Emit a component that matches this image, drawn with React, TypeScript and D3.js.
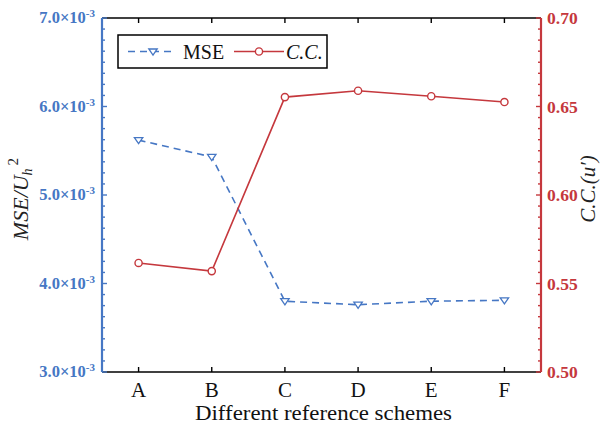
import React from "react";
import * as d3 from "d3";

const schemes = ["A", "B", "C", "D", "E", "F"];
const mseValues = [5.62e-3, 5.43e-3, 3.8e-3, 3.76e-3, 3.8e-3, 3.81e-3];
const ccValues = [0.5616, 0.557, 0.6553, 0.6589, 0.6558, 0.6525];
const mseTicks = [3e-3, 4e-3, 5e-3, 6e-3, 7e-3];
const ccTicks = [0.5, 0.55, 0.6, 0.65, 0.7];

const W = 602;
const H = 425;
const M = { left: 102, right: 541, top: 18, bottom: 372 };
const BLUE = "#4677C4";
const RED = "#C5383D";
const FONT = "'Times New Roman', 'Liberation Serif', Times, serif";
const serif = { fontFamily: FONT };

export default function App() {
  const x = d3.scaleLinear().domain([0.5, 6.5]).range([M.left, M.right]);
  const yL = d3.scaleLinear().domain([3e-3, 7e-3]).range([M.bottom, M.top]);
  const yR = d3.scaleLinear().domain([0.5, 0.7]).range([M.bottom, M.top]);

  const minorL = d3.range(0, 33).map((i) => 3e-3 + i * 0.125e-3);
  const minorR = d3.range(0, 33).map((i) => 0.5 + i * 0.00625);

  const mseLine = d3
    .line<number>()
    .x((_, i) => x(i + 1))
    .y((d) => yL(d));
  const ccLine = d3
    .line<number>()
    .x((_, i) => x(i + 1))
    .y((d) => yR(d));

  const tri = (cx: number, cy: number, s = 4.2) =>
    `M${cx - s},${cy - s * 0.6}L${cx + s},${cy - s * 0.6}L${cx},${cy + s * 0.85}Z`;

  const expLabel = (v: number) => (v * 1e3).toFixed(1);

  return (
    <svg width={W} height={H} style={{ position: "absolute", left: 0, top: 0, background: "#fff", ...serif }}>
      {/* frame: top and bottom black */}
      <line x1={M.left} x2={M.right} y1={M.top} y2={M.top} stroke="#000" strokeWidth={1.6} />
      <line x1={M.left} x2={M.right} y1={M.bottom} y2={M.bottom} stroke="#000" strokeWidth={1.6} />
      {schemes.map((s, i) => (
        <g key={s}>
          <line x1={x(i + 1)} x2={x(i + 1)} y1={M.bottom} y2={M.bottom - 5} stroke="#000" strokeWidth={1.4} />
          <line x1={x(i + 1)} x2={x(i + 1)} y1={M.top} y2={M.top + 5} stroke="#000" strokeWidth={1.4} />
          <text x={x(i + 1)} y={397} textAnchor="middle" fontSize={21} fill="#111" style={serif}>
            {s}
          </text>
        </g>
      ))}
      <text
        x={195}
        y={420}
        fontSize={21.5}
        fill="#111"
        style={serif}
        textLength={257}
        lengthAdjust="spacingAndGlyphs"
      >
        Different reference schemes
      </text>

      {/* left axis */}
      <line x1={M.left} x2={M.left} y1={M.top} y2={M.bottom} stroke={BLUE} strokeWidth={2.2} />
      {minorL.map((v, i) => (
        <line key={i} x1={M.left} x2={M.left + (i % 8 === 0 ? 5 : 3)} y1={yL(v)} y2={yL(v)} stroke={BLUE} strokeWidth={1.4} />
      ))}
      {mseTicks.map((v) => (
        <text key={v} x={M.left - 7} y={yL(v) + 5} textAnchor="end" fontSize={16.5} fontWeight="bold" fill={BLUE} style={serif}>
          {expLabel(v)}×10
          <tspan dy={-6} fontSize={11}>-3</tspan>
        </text>
      ))}
      <text transform={`translate(28,199) rotate(-90)`} textAnchor="middle" fontSize={22} fontStyle="italic" fill="#222" style={serif}>
        MSE/U
        <tspan fontSize={14} dy={4}>h</tspan>
        <tspan fontSize={15} fontStyle="normal" dy={-14} dx={3}>2</tspan>
      </text>

      {/* right axis */}
      <line x1={M.right} x2={M.right} y1={M.top} y2={M.bottom} stroke={RED} strokeWidth={2.2} />
      {minorR.map((v, i) => (
        <line key={i} x1={M.right} x2={M.right - (i % 8 === 0 ? 5 : 3)} y1={yR(v)} y2={yR(v)} stroke={RED} strokeWidth={1.4} />
      ))}
      {ccTicks.map((v) => (
        <text key={v} x={M.right + 6} y={yR(v) + 6} fontSize={17.5} fontWeight="bold" fill={RED} style={serif}>
          {v.toFixed(2)}
        </text>
      ))}
      <text transform={`translate(595,189) rotate(-90)`} textAnchor="middle" fontSize={21} fontStyle="italic" fill="#222" style={serif}>
        C.C.(u′)
      </text>

      {/* MSE series */}
      <path d={mseLine(mseValues) ?? ""} fill="none" stroke={BLUE} strokeWidth={1.6} strokeDasharray="7,5" />
      {mseValues.map((v, i) => (
        <path key={i} d={tri(x(i + 1), yL(v))} fill="#fff" stroke={BLUE} strokeWidth={1.3} />
      ))}

      {/* C.C. series */}
      <path d={ccLine(ccValues) ?? ""} fill="none" stroke={RED} strokeWidth={1.6} />
      {ccValues.map((v, i) => (
        <circle key={i} cx={x(i + 1)} cy={yR(v)} r={3.6} fill="#fff" stroke={RED} strokeWidth={1.4} />
      ))}

      {/* legend */}
      <rect x={118} y={35} width={209} height={33} fill="#fff" stroke="#000" strokeWidth={1.5} />
      <line x1={128} x2={172} y1={51.5} y2={51.5} stroke={BLUE} strokeWidth={1.6} strokeDasharray="7,5" />
      <path d={tri(153, 51.5)} fill="#fff" stroke={BLUE} strokeWidth={1.3} />
      <text x={183} y={58.5} fontSize={20} fill="#111" style={serif}>MSE</text>
      <line x1={234} x2={284} y1={51.5} y2={51.5} stroke={RED} strokeWidth={1.6} />
      <circle cx={259} cy={51.5} r={3.6} fill="#fff" stroke={RED} strokeWidth={1.4} />
      <text x={286} y={58.5} fontSize={20} fontStyle="italic" fill="#111" style={serif}>C.C.</text>
    </svg>
  );
}
